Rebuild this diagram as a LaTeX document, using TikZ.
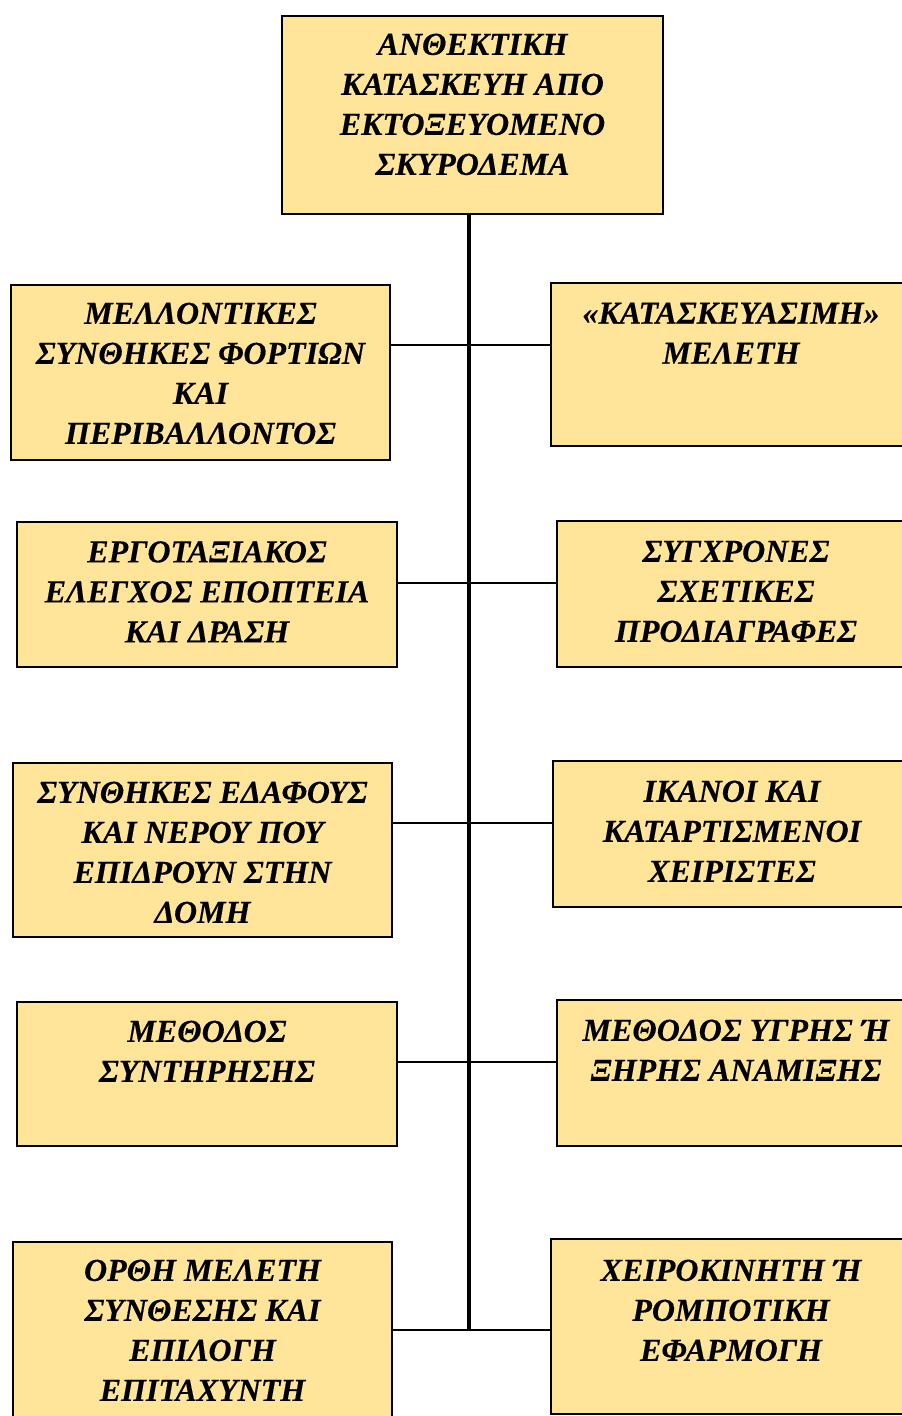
\documentclass[tikz,border=0pt]{standalone}
\usepackage{fontspec}
\setmainfont{Liberation Serif}
\newfontfamily\boxfont{Liberation Serif Bold Italic}[BoldFont={Liberation Serif Bold Italic}, BoldFeatures={FakeBold=0.25}]
\definecolor{boxfill}{RGB}{255,229,153}
\begin{document}
\begin{tikzpicture}[x=1pt,y=-1pt,
  box/.style={draw=black, line width=2pt, fill=boxfill, anchor=north west, inner sep=0pt},
  txt/.style={anchor=north, inner sep=0pt, align=center,
    font=\boxfont\bfseries\fontsize{32}{40}\selectfont},
  spine/.style={line width=3.2pt},
  link/.style={line width=2.2pt}]
\useasboundingbox (0,0) rectangle (902,1416);
\clip (0,0) rectangle (902,1416);

% top box
\node[box, minimum width=381pt, minimum height=198pt] (top) at (281,15) {};
\node[txt] (ttop) at ([yshift=-18.5pt]top.north) {ΑΝΘΕΚΤΙΚΗ\\ΚΑΤΑΣΚΕΥΗ ΑΠΟ\\ΕΚΤΟΞΕΥΟΜΕΝΟ\\ΣΚΥΡΟΔΕΜΑ};

% left column
\node[box, minimum width=379pt, minimum height=175pt] (l1) at (10,284) {};
\node[box, minimum width=380pt, minimum height=145pt] (l2) at (16,521) {};
\node[box, minimum width=379pt, minimum height=174pt] (l3) at (12,762) {};
\node[box, minimum width=380pt, minimum height=144pt] (l4) at (16,1001) {};
\node[box, minimum width=379pt, minimum height=180pt] (l5) at (12,1241) {};

% right column
\node[box, minimum width=360pt, minimum height=163pt] (r1) at (550,282) {};
\node[box, minimum width=358pt, minimum height=146pt] (r2) at (556,520) {};
\node[box, minimum width=358pt, minimum height=146pt] (r3) at (552,760) {};
\node[box, minimum width=358pt, minimum height=146pt] (r4) at (556,999) {};
\node[box, minimum width=360pt, minimum height=175pt] (r5) at (550,1238) {};

% texts
\node[txt] (tl1) at ([yshift=-18.5pt]l1.north) {ΜΕΛΛΟΝΤΙΚΕΣ\\ΣΥΝΘΗΚΕΣ ΦΟΡΤΙΩΝ\\ΚΑΙ\\ΠΕΡΙΒΑΛΛΟΝΤΟΣ};
\node[txt] (tl2) at ([yshift=-20pt]l2.north) {ΕΡΓΟΤΑΞΙΑΚΟΣ\\ΕΛΕΓΧΟΣ ΕΠΟΠΤΕΙΑ\\ΚΑΙ ΔΡΑΣΗ};
\node[txt] (tl3) at ([yshift=-19.5pt]l3.north) {ΣΥΝΘΗΚΕΣ ΕΔΑΦΟΥΣ\\ΚΑΙ ΝΕΡΟΥ ΠΟΥ\\ΕΠΙΔΡΟΥΝ ΣΤΗΝ\\ΔΟΜΗ};
\node[txt] (tl4) at ([yshift=-19.5pt]l4.north) {ΜΕΘΟΔΟΣ\\ΣΥΝΤΗΡΗΣΗΣ};
\node[txt] (tl5) at ([yshift=-18.5pt]l5.north) {ΟΡΘΗ ΜΕΛΕΤΗ\\ΣΥΝΘΕΣΗΣ ΚΑΙ\\ΕΠΙΛΟΓΗ\\ΕΠΙΤΑΧΥΝΤΗ};

\node[txt] (tr1) at ([yshift=-20.4pt]r1.north) {«ΚΑΤΑΣΚΕΥΑΣΙΜΗ»\\ΜΕΛΕΤΗ};
\node[txt] (tr2) at ([yshift=-20.4pt]r2.north) {ΣΥΓΧΡΟΝΕΣ\\ΣΧΕΤΙΚΕΣ\\ΠΡΟΔΙΑΓΡΑΦΕΣ};
\node[txt] (tr3) at ([yshift=-20.4pt]r3.north) {ΙΚΑΝΟΙ ΚΑΙ\\ΚΑΤΑΡΤΙΣΜΕΝΟΙ\\ΧΕΙΡΙΣΤΕΣ};
\node[txt] (tr4) at ([yshift=-20.4pt]r4.north) {ΜΕΘΟΔΟΣ ΥΓΡΗΣ Ή\\ΞΗΡΗΣ ΑΝΑΜΙΞΗΣ};
\node[txt] (tr5) at ([yshift=-21.4pt]r5.north) {ΧΕΙΡΟΚΙΝΗΤΗ Ή\\ΡΟΜΠΟΤΙΚΗ\\ΕΦΑΡΜΟΓΗ};

% junction points on the spine
\coordinate (j1) at (469,345);
\coordinate (j2) at (469,583);
\coordinate (j3) at (469,823);
\coordinate (j4) at (469,1062);
\coordinate (j5) at (469,1330);

% spine and branches
\draw[spine] (top.south -| j1) -- (j5);
\draw[link] (l1.east |- j1) -- (r1.west |- j1);
\draw[link] (l2.east |- j2) -- (r2.west |- j2);
\draw[link] (l3.east |- j3) -- (r3.west |- j3);
\draw[link] (l4.east |- j4) -- (r4.west |- j4);
\draw[link] (l5.east |- j5) -- (r5.west |- j5);
\end{tikzpicture}
\end{document}
